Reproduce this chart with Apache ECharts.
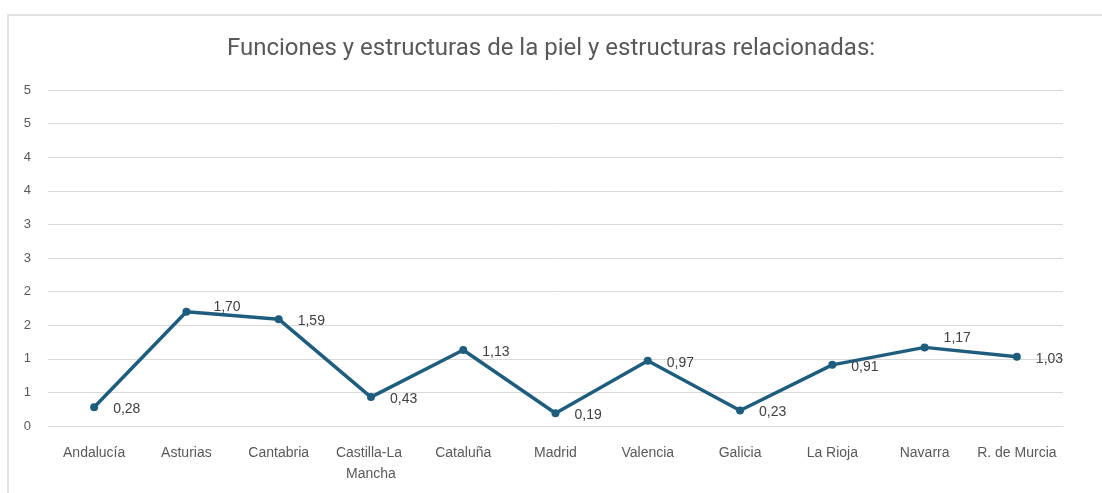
<!DOCTYPE html>
<html>
<head>
<meta charset="utf-8">
<script src="https://cdn.jsdelivr.net/npm/echarts@6/dist/echarts.min.js"></script>
<style>html,body{margin:0;padding:0;background:#fff;}#c{width:1102px;height:493px;}</style>
</head>
<body>
<div id="c"></div>
<script>
const titleText = 'Funciones y estructuras de la piel y estructuras relacionadas:';
const categories = ['Andalucía','Asturias','Cantabria','Castilla-La Mancha','Cataluña','Madrid','Valencia','Galicia','La Rioja','Navarra','R. de Murcia'];
const values = [0.28,1.70,1.59,0.43,1.13,0.19,0.97,0.23,0.91,1.17,1.03];
const yMin = 0, yMax = 5, yInterval = 0.5;

// label placement tweaks (styling, not data)
const labelShift = {'Asturias':[18,-5], 'Navarra':[10,-9]};

const chart = echarts.init(document.getElementById('c'), null, {renderer:'canvas'});
chart.setOption({
  animation:false,
  backgroundColor:'#ffffff',
  graphic:[{type:'rect', shape:{x:8,y:15,width:1200,height:600}, style:{fill:'none', stroke:'#d9d9d9', lineWidth:1.5}, silent:true, z:-1}],
  title:{text:titleText, left:'center', top:32, textStyle:{fontFamily:'Roboto, sans-serif', fontSize:24, fontWeight:'normal', color:'#595959'}},
  grid:{left:48, right:39, top:90, bottom:67, containLabel:false},
  xAxis:{type:'category', data:categories, boundaryGap:true,
    axisLine:{show:true, lineStyle:{color:'#d9d9d9'}}, axisTick:{show:false},
    axisLabel:{color:'#595959', fontSize:14, fontFamily:'Liberation Sans, Arial, sans-serif', margin:17, interval:0, width:90, overflow:'break', lineHeight:21}},
  yAxis:{type:'value', min:yMin, max:yMax, interval:yInterval,
    axisLine:{show:false}, axisTick:{show:false},
    splitLine:{lineStyle:{color:'#d9d9d9', width:1}},
    axisLabel:{color:'#595959', fontSize:13, fontFamily:'Liberation Sans, Arial, sans-serif', margin:17, formatter:v=>String(Math.round(v))}},
  series:[{type:'line', symbol:'circle', symbolSize:8,
    data: values.map((v,i)=>{
      const o = labelShift[categories[i]] || [10,2];
      return {value:v, label:{offset:o}};
    }),
    lineStyle:{color:'#1f5d7e', width:3.5}, itemStyle:{color:'#1f5d7e'},
    label:{show:true, position:'right', color:'#404040', fontSize:14, fontFamily:'Liberation Sans, Arial, sans-serif',
      formatter:p=>p.value.toFixed(2).replace('.',',')}}]
});
</script>
</body>
</html>
